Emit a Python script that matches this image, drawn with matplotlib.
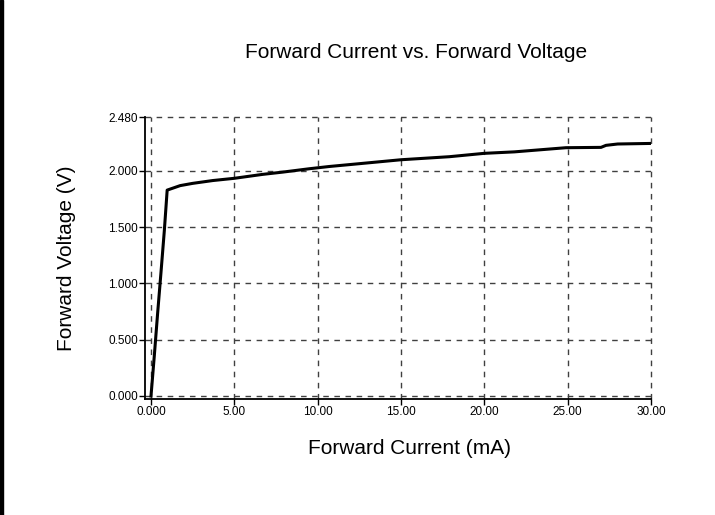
import numpy as np
import matplotlib
matplotlib.use("Agg")
import matplotlib.pyplot as plt
from matplotlib import font_manager
from matplotlib.patches import Rectangle

# data
current_ma = [0.0, 0.2, 0.4, 0.6, 0.8, 0.97, 1.75, 2.5, 3.7, 5.0, 6.7, 7.9,
              9.5, 10.7, 12.5, 15.0, 17.9, 20.0, 21.8, 24.9, 27.0, 27.3, 28.0, 30.0]
voltage_v = [0.0, 0.36, 0.74, 1.10, 1.47, 1.83, 1.87, 1.89, 1.915, 1.935, 1.97, 1.99,
             2.02, 2.04, 2.065, 2.10, 2.127, 2.157, 2.17, 2.207, 2.21, 2.228, 2.24, 2.245]

x_ticks = [0, 5, 10, 15, 20, 25, 30]
x_labels = ["0.000", "5.00", "10.00", "15.00", "20.00", "25.00", "30.00"]
y_ticks = [0.0, 0.5, 1.0, 1.5, 2.0, 2.48]
y_labels = ["0.000", "0.500", "1.000", "1.500", "2.000", "2.480"]

names = {f.name for f in font_manager.fontManager.ttflist}
narrow = "Liberation Sans Narrow" in names
FONT = "Liberation Sans Narrow" if narrow else "Liberation Sans"
plt.rcParams['font.family'] = [FONT, 'DejaVu Sans']
big = 17 if narrow else 15
small = 9.5 if narrow else 8.5

fig = plt.figure(figsize=(7.15, 5.15), dpi=100)
fig.patches.append(Rectangle((0, 0), 3 / 715, 1, transform=fig.transFigure,
                             color='black', zorder=5))

ax = fig.add_axes([145 / 715, 116 / 515, 506 / 715, 282 / 515])
ax.plot(current_ma, voltage_v, color='black', lw=2.2, zorder=3)

ax.set_xlim(-0.36, 30.0)
ax.set_ylim(-0.027, 2.48)
ax.set_xticks(x_ticks)
ax.set_xticklabels(x_labels)
ax.set_yticks(y_ticks)
ax.set_yticklabels(y_labels)
ax.tick_params(direction='out', length=4, width=1, labelsize=small, pad=1)

ax.spines['top'].set_visible(False)
ax.spines['right'].set_visible(False)
ax.spines['left'].set_linewidth(1.3)
ax.spines['bottom'].set_linewidth(1.3)

for xv in x_ticks:
    ax.axvline(xv, color='#404040', lw=1, ls=(0, (4, 4)), clip_on=False, zorder=1)
for yv in y_ticks:
    ax.axhline(yv, color='#404040', lw=1, ls=(0, (4, 4)), clip_on=False, zorder=1)

fig.text(416 / 715, 1 - 52 / 515, "Forward Current vs. Forward Voltage",
         ha='center', va='center', fontsize=big)
fig.text(410 / 715, 1 - 449 / 515, "Forward Current (mA)",
         ha='center', va='center', fontsize=big)
fig.text(67 / 715, 1 - 258 / 515, "Forward Voltage (V)",
         ha='center', va='center', rotation=90, fontsize=big)

fig.savefig("out.png", dpi=100)
